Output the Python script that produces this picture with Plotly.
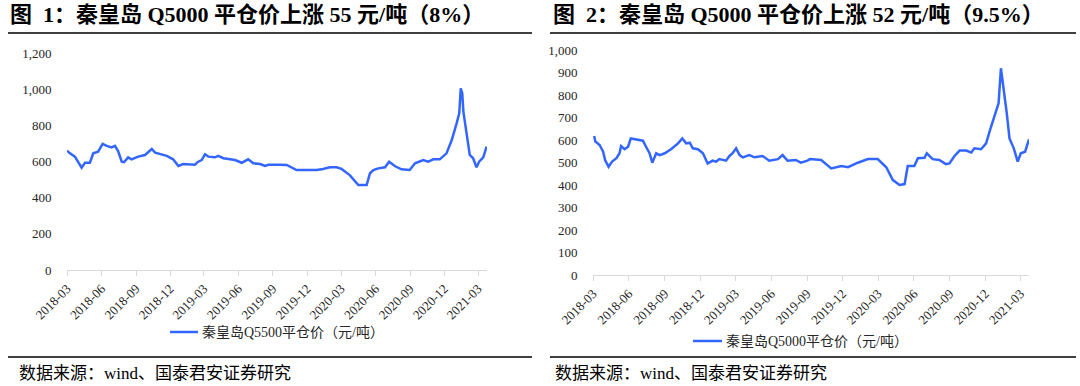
import plotly.graph_objects as go

# ---- Data ----
q5500_dates = ["2018-03-01","2018-03-09","2018-03-22","2018-03-31","2018-04-09","2018-04-18","2018-05-01","2018-05-10","2018-05-23","2018-06-04","2018-06-15","2018-06-28","2018-07-07","2018-07-16","2018-07-25","2018-07-31","2018-08-11","2018-08-20","2018-09-07","2018-09-25","2018-10-13","2018-10-22","2018-11-04","2018-11-22","2018-12-09","2018-12-23","2019-01-05","2019-01-23","2019-02-05","2019-02-14","2019-02-23","2019-03-04","2019-03-13","2019-03-31","2019-04-08","2019-04-22","2019-05-23","2019-06-10","2019-06-27","2019-07-11","2019-07-29","2019-08-11","2019-08-20","2019-09-20","2019-10-08","2019-11-03","2019-12-27","2020-01-13","2020-01-31","2020-02-18","2020-03-02","2020-03-24","2020-04-16","2020-05-08","2020-05-17","2020-05-26","2020-06-08","2020-06-26","2020-07-07","2020-07-22","2020-08-09","2020-08-31","2020-09-14","2020-10-06","2020-10-19","2020-11-02","2020-11-19","2020-12-07","2020-12-21","2021-01-03","2021-01-10","2021-01-14","2021-01-18","2021-01-21","2021-01-30","2021-02-07","2021-02-16","2021-02-25","2021-03-04","2021-03-15","2021-03-24"]
q5500_values = [660,645,627,599,566,593,593,645,654,697,686,678,686,654,599,596,623,612,627,636,669,649,642,631,612,575,586,586,582,599,608,640,627,623,631,618,608,593,612,590,586,575,582,582,581,553,553,559,568,568,559,525,470,470,535,553,562,568,599,575,557,553,590,608,599,612,612,645,719,811,867,1005,977,876,737,636,618,568,599,623,682]

q5000_dates = ["2018-03-04","2018-03-07","2018-03-18","2018-03-27","2018-04-01","2018-04-10","2018-04-19","2018-04-30","2018-05-08","2018-05-12","2018-05-21","2018-05-30","2018-06-06","2018-06-24","2018-07-07","2018-07-15","2018-07-24","2018-07-31","2018-08-10","2018-08-19","2018-09-01","2018-09-17","2018-10-05","2018-10-16","2018-10-26","2018-11-04","2018-11-12","2018-11-25","2018-12-08","2018-12-20","2019-01-02","2019-01-11","2019-01-19","2019-02-05","2019-02-14","2019-02-22","2019-03-03","2019-03-12","2019-03-20","2019-04-06","2019-04-19","2019-05-10","2019-05-27","2019-06-18","2019-06-30","2019-07-13","2019-08-03","2019-08-16","2019-09-02","2019-09-08","2019-10-07","2019-11-02","2019-11-28","2019-12-15","2020-01-09","2020-02-04","2020-02-29","2020-03-22","2020-04-08","2020-04-25","2020-05-08","2020-05-16","2020-06-02","2020-06-11","2020-06-28","2020-07-04","2020-07-19","2020-08-05","2020-08-22","2020-08-31","2020-09-13","2020-09-26","2020-10-13","2020-10-26","2020-11-03","2020-11-20","2020-12-03","2020-12-13","2020-12-24","2021-01-04","2021-01-10","2021-01-16","2021-01-25","2021-02-01","2021-02-12","2021-02-22","2021-03-02","2021-03-13","2021-03-23"]
q5000_values = [618,593,578,548,511,481,504,519,541,573,559,570,607,603,597,570,541,499,541,533,541,559,585,607,585,588,563,559,541,496,508,504,515,508,529,541,563,533,523,533,523,529,508,515,533,508,511,499,508,515,511,474,484,479,499,515,515,479,422,400,404,484,484,519,521,541,515,511,493,496,529,553,553,544,563,559,585,644,704,763,919,844,719,607,563,504,541,548,603]

title_left = "图  1：秦皇岛 Q5000 平仓价上涨 55 元/吨（8%）"
title_right = "图  2：秦皇岛 Q5000 平仓价上涨 52 元/吨（9.5%）"
legend_left = "秦皇岛Q5500平仓价（元/吨）"
legend_right = "秦皇岛Q5000平仓价（元/吨）"
source_text = "数据来源：wind、国泰君安证券研究"

W, H = 1080, 386
LINE = "#3366ff"
SERIF = "'Liberation Serif', 'Times New Roman', 'Noto Sans CJK SC', serif"
CJK = "'Liberation Serif', 'Noto Sans CJK SC', serif"

fig = go.Figure()
fig.add_trace(go.Scatter(x=q5500_dates, y=q5500_values, mode="lines", name=legend_left,
                         line=dict(color=LINE, width=2.5), xaxis="x", yaxis="y", showlegend=False))
fig.add_trace(go.Scatter(x=q5000_dates, y=q5000_values, mode="lines", name=legend_right,
                         line=dict(color=LINE, width=2.5), xaxis="x2", yaxis="y2", showlegend=False))

def px_x(p):
    return p / W

def px_y(p):
    return 1 - p / H

xcommon = dict(type="date", tickformat="%Y-%m", dtick="M3", tick0="2018-03-01",
               tickangle=-45, showgrid=False, showline=True, linecolor="#d9d9d9", linewidth=1,
               ticks="outside", ticklen=5, tickcolor="#d9d9d9", automargin=False,
               tickfont=dict(family=SERIF, size=13, color="#262626"), zeroline=False)
ycommon = dict(showgrid=False, showline=False, zeroline=False, ticks="outside", ticklen=12,
               tickcolor="rgba(0,0,0,0)", automargin=False,
               tickfont=dict(family=SERIF, size=13, color="#262626"), tickformat=",")

fig.update_layout(
    width=W, height=H,
    margin=dict(l=0, r=0, t=0, b=0, autoexpand=False),
    paper_bgcolor="white", plot_bgcolor="white",
    xaxis=dict(domain=[px_x(67), px_x(487)], range=["2018-03-01", "2021-03-25"], anchor="y", **xcommon),
    yaxis=dict(domain=[px_y(270), px_y(53)], range=[0, 1200], dtick=200, anchor="x", **ycommon),
    xaxis2=dict(domain=[px_x(593), px_x(1029)], range=["2018-03-01", "2021-03-23"], anchor="y2", **xcommon),
    yaxis2=dict(domain=[px_y(275), px_y(50)], range=[0, 1000], dtick=100, anchor="x2", **ycommon),
)

shapes = []
for x0, x1 in [(8, 532), (550, 1076)]:
    shapes.append(dict(type="line", xref="paper", yref="paper", x0=px_x(x0), x1=px_x(x1),
                       y0=px_y(33), y1=px_y(33), line=dict(color="black", width=1.5)))
    shapes.append(dict(type="line", xref="paper", yref="paper", x0=px_x(x0), x1=px_x(x1),
                       y0=px_y(357), y1=px_y(357), line=dict(color="black", width=1.5)))
shapes.append(dict(type="line", xref="paper", yref="paper", x0=px_x(170), x1=px_x(198),
                   y0=px_y(332), y1=px_y(332), line=dict(color=LINE, width=2.5)))
shapes.append(dict(type="line", xref="paper", yref="paper", x0=px_x(693), x1=px_x(722),
                   y0=px_y(341), y1=px_y(341), line=dict(color=LINE, width=2.5)))
fig.update_layout(shapes=shapes)

ann = []
ann.append(dict(text="<b>" + title_left + "</b>", x=px_x(8), y=px_y(14), xref="paper", yref="paper",
                xanchor="left", yanchor="middle", showarrow=False,
                font=dict(family=CJK, size=22, color="black")))
ann.append(dict(text="<b>" + title_right + "</b>", x=px_x(551), y=px_y(14), xref="paper", yref="paper",
                xanchor="left", yanchor="middle", showarrow=False,
                font=dict(family=CJK, size=22, color="black")))
ann.append(dict(text=legend_left, x=px_x(200), y=px_y(332), xref="paper", yref="paper",
                xanchor="left", yanchor="middle", showarrow=False,
                font=dict(family=CJK, size=14, color="#262626")))
ann.append(dict(text=legend_right, x=px_x(724), y=px_y(341), xref="paper", yref="paper",
                xanchor="left", yanchor="middle", showarrow=False,
                font=dict(family=CJK, size=14, color="#262626")))
ann.append(dict(text=source_text, x=px_x(17), y=px_y(373), xref="paper", yref="paper",
                xanchor="left", yanchor="middle", showarrow=False,
                font=dict(family=CJK, size=17, color="black")))
ann.append(dict(text=source_text, x=px_x(553), y=px_y(373), xref="paper", yref="paper",
                xanchor="left", yanchor="middle", showarrow=False,
                font=dict(family=CJK, size=17, color="black")))
fig.update_layout(annotations=ann)

fig.write_html("out.html", config={"displayModeBar": False},
               post_script="document.body.style.margin='0';document.body.style.overflow='hidden';")
